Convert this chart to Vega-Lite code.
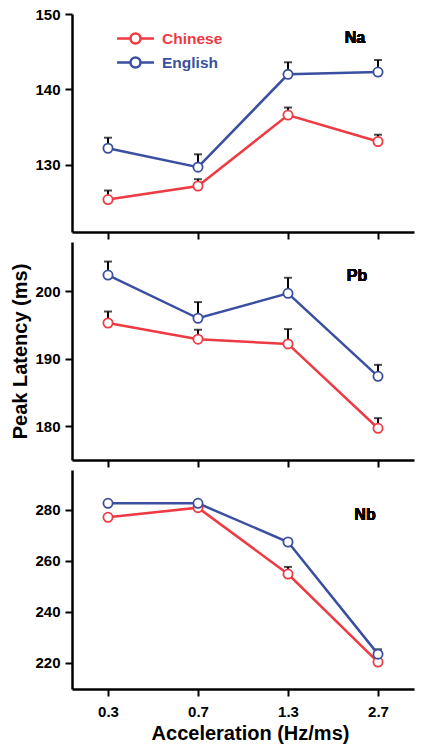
{
  "$schema": "https://vega.github.io/schema/vega-lite/v6.json",
  "background": "white",
  "padding": {"left": 10, "top": 7, "right": 5, "bottom": 5},
  "spacing": 2,
  "config": {
    "view": {"stroke": null},
    "font": "Liberation Sans",
    "axis": {
      "domainColor": "black", "domainWidth": 2.5, "tickColor": "black", "tickWidth": 2, "tickSize": 7,
      "labelFont": "Liberation Sans", "labelFontWeight": "bold", "labelFontSize": 15, "labelColor": "black",
      "titleFont": "Liberation Sans", "titleFontWeight": "bold", "titleFontSize": 20, "titleColor": "black",
      "grid": false
    }
  },
  "datasets": {
    "lat": [
      {"panel": "Na", "group": "Chinese", "acc": "0.3", "mean": 125.4, "upper": 126.6},
      {"panel": "Na", "group": "Chinese", "acc": "0.7", "mean": 127.2, "upper": 128.1},
      {"panel": "Na", "group": "Chinese", "acc": "1.3", "mean": 136.6, "upper": 137.6},
      {"panel": "Na", "group": "Chinese", "acc": "2.7", "mean": 133.1, "upper": 134.0},
      {"panel": "Na", "group": "English", "acc": "0.3", "mean": 132.2, "upper": 133.6},
      {"panel": "Na", "group": "English", "acc": "0.7", "mean": 129.7, "upper": 131.4},
      {"panel": "Na", "group": "English", "acc": "1.3", "mean": 142.0, "upper": 143.6},
      {"panel": "Na", "group": "English", "acc": "2.7", "mean": 142.3, "upper": 143.9},
      {"panel": "Pb", "group": "Chinese", "acc": "0.3", "mean": 195.3, "upper": 197.0},
      {"panel": "Pb", "group": "Chinese", "acc": "0.7", "mean": 192.9, "upper": 194.3},
      {"panel": "Pb", "group": "Chinese", "acc": "1.3", "mean": 192.2, "upper": 194.4},
      {"panel": "Pb", "group": "Chinese", "acc": "2.7", "mean": 179.7, "upper": 181.2},
      {"panel": "Pb", "group": "English", "acc": "0.3", "mean": 202.4, "upper": 204.4},
      {"panel": "Pb", "group": "English", "acc": "0.7", "mean": 196.0, "upper": 198.4},
      {"panel": "Pb", "group": "English", "acc": "1.3", "mean": 199.7, "upper": 202.0},
      {"panel": "Pb", "group": "English", "acc": "2.7", "mean": 187.4, "upper": 189.1},
      {"panel": "Nb", "group": "Chinese", "acc": "0.3", "mean": 277.1, "upper": 277.8},
      {"panel": "Nb", "group": "Chinese", "acc": "0.7", "mean": 280.9, "upper": 281.4},
      {"panel": "Nb", "group": "Chinese", "acc": "1.3", "mean": 254.8, "upper": 257.6},
      {"panel": "Nb", "group": "Chinese", "acc": "2.7", "mean": 220.2, "upper": 220.8},
      {"panel": "Nb", "group": "English", "acc": "0.3", "mean": 282.6, "upper": 283.4},
      {"panel": "Nb", "group": "English", "acc": "0.7", "mean": 282.6, "upper": 283.1},
      {"panel": "Nb", "group": "English", "acc": "1.3", "mean": 267.4, "upper": 268.0},
      {"panel": "Nb", "group": "English", "acc": "2.7", "mean": 223.3, "upper": 225.2}
    ]
  },
  "resolve": {"legend": {"color": "independent"}, "scale": {"color": "independent"}},
  "vconcat": [
    {
      "width": 342, "height": 218,
      "data": {"name": "lat"},
      "transform": [{"filter": "datum.panel === 'Na'"}],
      "encoding": {
        "x": {"field": "acc", "type": "ordinal", "scale": {"type": "point", "padding": 0.4}, "sort": ["0.3", "0.7", "1.3", "2.7"],
              "axis": {"labels": false, "title": null}},
        "y": {"field": "mean", "type": "quantitative", "scale": {"domain": [121.1, 150], "nice": false, "zero": false},
              "axis": {"values": [130, 140, 150], "title": null, "labelPadding": 5}}
      },
      "layer": [
        {"mark": {"type": "rule", "color": "black", "strokeWidth": 2}, "encoding": {"y2": {"field": "upper"}}},
        {"mark": {"type": "tick", "color": "black", "thickness": 2, "size": 8, "orient": "horizontal"}, "encoding": {"y": {"field": "upper", "type": "quantitative"}}},
        {"mark": {"type": "line", "strokeWidth": 2.5},
         "encoding": {"color": {"field": "group", "type": "nominal", "scale": {"domain": ["Chinese", "English"], "range": ["#ee3a42", "#3b4fa0"]},
           "legend": {"orient": "none", "legendX": 52, "legendY": 13, "title": null, "symbolType": "M-1.85,0H-0.5M0.5,0H1.85M-0.5,0A0.5,0.5 0 1,0 0.5,0A0.5,0.5 0 1,0 -0.5,0", "symbolSize": 400, "symbolStrokeWidth": 2.5, "labelFontSize": 15.5, "labelFontWeight": "bold", "labelOffset": 15, "rowPadding": 2,
             "labelFont": "Liberation Sans",
             "encode": {"labels": {"update": {"fill": [{"test": "datum.value === 'Chinese'", "value": "#ee3a42"}, {"value": "#3b4fa0"}]}},
                        "symbols": {"update": {"fill": {"value": "white"}}}}}}}},
        {"mark": {"type": "point", "filled": false, "fill": "white", "fillOpacity": 1, "size": 85, "strokeWidth": 1.8, "opacity": 1},
         "encoding": {"color": {"field": "group", "type": "nominal", "legend": null}}},
        {"mark": {"type": "text", "text": "Na", "fontSize": 16, "fontWeight": "bold", "font": "Liberation Sans", "color": "black", "dx": -23},
         "encoding": {"x": {"datum": "2.7"}, "y": {"datum": 146.8}}}
      ]
    },
    {
      "width": 342, "height": 218,
      "data": {"name": "lat"},
      "transform": [{"filter": "datum.panel === 'Pb'"}],
      "encoding": {
        "x": {"field": "acc", "type": "ordinal", "scale": {"type": "point", "padding": 0.4}, "sort": ["0.3", "0.7", "1.3", "2.7"],
              "axis": {"labels": false, "title": null}},
        "y": {"field": "mean", "type": "quantitative", "scale": {"domain": [175, 207.3], "nice": false, "zero": false},
              "axis": {"values": [180, 190, 200], "title": "Peak Latency (ms)", "labelPadding": 5, "titlePadding": 4}}
      },
      "layer": [
        {"mark": {"type": "rule", "color": "black", "strokeWidth": 2}, "encoding": {"y2": {"field": "upper"}}},
        {"mark": {"type": "tick", "color": "black", "thickness": 2, "size": 8, "orient": "horizontal"}, "encoding": {"y": {"field": "upper", "type": "quantitative"}}},
        {"mark": {"type": "line", "strokeWidth": 2.5},
         "encoding": {"color": {"field": "group", "type": "nominal", "scale": {"domain": ["Chinese", "English"], "range": ["#ee3a42", "#3b4fa0"]}, "legend": null}}},
        {"mark": {"type": "point", "filled": false, "fill": "white", "fillOpacity": 1, "size": 85, "strokeWidth": 1.8, "opacity": 1},
         "encoding": {"color": {"field": "group", "type": "nominal", "legend": null}}},
        {"mark": {"type": "text", "text": "Pb", "fontSize": 16, "fontWeight": "bold", "font": "Liberation Sans", "color": "black", "dx": -21},
         "encoding": {"x": {"datum": "2.7"}, "y": {"datum": 202.3}}}
      ]
    },
    {
      "width": 342, "height": 219,
      "data": {"name": "lat"},
      "transform": [{"filter": "datum.panel === 'Nb'"}],
      "encoding": {
        "x": {"field": "acc", "type": "ordinal", "scale": {"type": "point", "padding": 0.4}, "sort": ["0.3", "0.7", "1.3", "2.7"],
              "axis": {"title": "Acceleration (Hz/ms)", "labelAngle": 0, "labelPadding": 8, "titlePadding": 4, "titleX": 178}},
        "y": {"field": "mean", "type": "quantitative", "scale": {"domain": [209.6, 295.7], "nice": false, "zero": false},
              "axis": {"values": [220, 240, 260, 280], "title": null, "labelPadding": 5}}
      },
      "layer": [
        {"mark": {"type": "rule", "color": "black", "strokeWidth": 2}, "encoding": {"y2": {"field": "upper"}}},
        {"mark": {"type": "tick", "color": "black", "thickness": 2, "size": 8, "orient": "horizontal"}, "encoding": {"y": {"field": "upper", "type": "quantitative"}}},
        {"mark": {"type": "line", "strokeWidth": 2.5},
         "encoding": {"color": {"field": "group", "type": "nominal", "scale": {"domain": ["Chinese", "English"], "range": ["#ee3a42", "#3b4fa0"]}, "legend": null}}},
        {"mark": {"type": "point", "filled": false, "fill": "white", "fillOpacity": 1, "size": 85, "strokeWidth": 1.8, "opacity": 1},
         "encoding": {"color": {"field": "group", "type": "nominal", "legend": null}}},
        {"mark": {"type": "text", "text": "Nb", "fontSize": 16, "fontWeight": "bold", "font": "Liberation Sans", "color": "black", "dx": -13},
         "encoding": {"x": {"datum": "2.7"}, "y": {"datum": 278}}}
      ]
    }
  ]
}
